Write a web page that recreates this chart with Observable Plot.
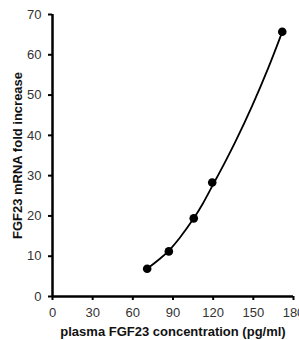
<!DOCTYPE html>
<html><head><meta charset="utf-8">
<script src="https://cdn.jsdelivr.net/npm/d3@7"></script>
<script src="https://cdn.jsdelivr.net/npm/@observablehq/plot@0.6"></script>
<style>
body{margin:0;background:#fff;}
</style>
</head><body><div id="chart"></div>
<script>
// measured points
const plasmaFGF23 = [70.7, 86.9, 105.5, 119.3, 171.6];
const mRNAFold = [6.9, 11.2, 19.4, 28.3, 65.7];
// fitted curve
const fitX = [70.7, 80, 86.9, 95.1, 105.5, 112, 119.3, 128, 136.7, 149.2, 161.1, 171.6];
const fitY = [6.9, 9.3, 11.4, 14.6, 19.4, 22.9, 27.4, 32.8, 38.5, 47.4, 56.7, 65.7];
const xTicks = [0, 30, 60, 90, 120, 150, 180];
const yTicks = [0, 10, 20, 30, 40, 50, 60, 70];
const data = plasmaFGF23.map((x, i) => ({x, y: mRNAFold[i]}));
const fit = fitX.map((x, i) => ({x, y: fitY[i]}));

const chart = Plot.plot({
  width: 299, height: 340,
  marginLeft: 52, marginRight: 6, marginTop: 14, marginBottom: 44,
  style: {fontFamily: "Liberation Sans, Arial, sans-serif", fontSize: "13px", color: "#333", background: "#fff", overflow: "visible"},
  x: {domain: [0, 180], ticks: xTicks},
  y: {domain: [0, 70], ticks: yTicks},
  marks: [
    Plot.axisX({ticks: xTicks, tickSize: 4, tickPadding: 7, stroke: "#000", strokeWidth: 2, fill: "#333", fontSize: 13, label: null}),
    Plot.axisY({ticks: yTicks, tickSize: 4, tickPadding: 7, stroke: "#000", strokeWidth: 2, fill: "#333", fontSize: 13, label: null}),
    Plot.ruleX([0], {y1: 0, y2: 70, stroke: "#000", strokeWidth: 2.5}),
    Plot.ruleY([0], {x1: 0, x2: 180, stroke: "#000", strokeWidth: 2.5}),
    Plot.line(fit, {x: "x", y: "y", curve: "catmull-rom", stroke: "#000", strokeWidth: 1.8}),
    Plot.dot(data, {x: "x", y: "y", r: 4.3, fill: "#000", stroke: "none"}),
    Plot.text(["plasma FGF23 concentration (pg/ml)"], {frameAnchor: "bottom", lineAnchor: "middle", dy: 35, fontWeight: "bold", fontSize: 13, fill: "#111", text: d => d}),
    Plot.text(["FGF23 mRNA fold increase"], {frameAnchor: "left", textAnchor: "middle", lineAnchor: "middle", dx: -35, rotate: -90, fontWeight: "bold", fontSize: 13, fill: "#111", text: d => d})
  ]
});
document.getElementById("chart").append(chart);
</script>
</body></html>
